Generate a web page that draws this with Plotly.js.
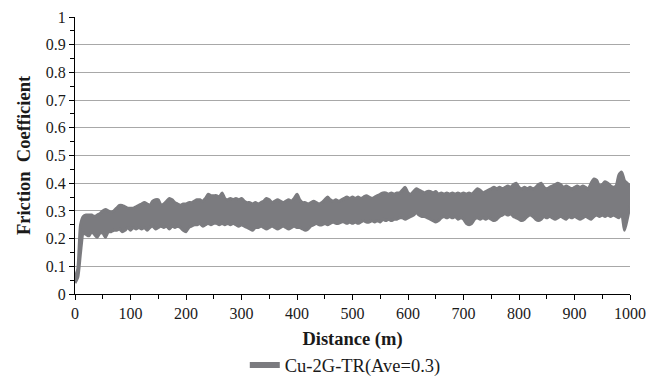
<!DOCTYPE html>
<html>
<head>
<meta charset="utf-8">
<script src="https://cdn.plot.ly/plotly-3.0.1.min.js"></script>
<style>html,body{margin:0;padding:0;background:#fff;}#chart{width:662px;height:380px;}</style>
</head>
<body>
<div id="chart"></div>
<script>
// Distance (m) sampled every 5 m
const distance = [0,5,10,15,20,25,30,35,40,45,50,55,60,65,70,75,80,85,90,95,
100,105,110,115,120,125,130,135,140,145,150,155,160,165,170,175,180,185,190,195,
200,205,210,215,220,225,230,235,240,245,250,255,260,265,270,275,280,285,290,295,
300,305,310,315,320,325,330,335,340,345,350,355,360,365,370,375,380,385,390,395,
400,405,410,415,420,425,430,435,440,445,450,455,460,465,470,475,480,485,490,495,
500,505,510,515,520,525,530,535,540,545,550,555,560,565,570,575,580,585,590,595,
600,605,610,615,620,625,630,635,640,645,650,655,660,665,670,675,680,685,690,695,
700,705,710,715,720,725,730,735,740,745,750,755,760,765,770,775,780,785,790,795,
800,805,810,815,820,825,830,835,840,845,850,855,860,865,870,875,880,885,890,895,
900,905,910,915,920,925,930,935,940,945,950,955,960,965,970,975,980,985,990,995,1000];

// Upper envelope of the friction coefficient trace
const frictionUpper = [0.06,0.09,0.25,0.28,0.285,0.285,0.285,0.28,0.285,0.29,
0.30,0.305,0.30,0.295,0.30,0.31,0.32,0.32,0.315,0.31,
0.31,0.31,0.315,0.32,0.325,0.33,0.325,0.32,0.335,0.34,
0.34,0.32,0.325,0.335,0.345,0.34,0.33,0.325,0.32,0.325,
0.325,0.33,0.33,0.335,0.34,0.34,0.335,0.345,0.36,0.355,
0.355,0.355,0.35,0.365,0.345,0.34,0.345,0.34,0.345,0.34,
0.345,0.335,0.33,0.33,0.325,0.33,0.325,0.33,0.335,0.345,
0.34,0.33,0.335,0.34,0.335,0.33,0.335,0.34,0.335,0.345,
0.36,0.34,0.33,0.33,0.325,0.33,0.335,0.33,0.325,0.33,
0.34,0.35,0.34,0.335,0.34,0.335,0.34,0.345,0.35,0.345,
0.35,0.345,0.35,0.345,0.35,0.355,0.35,0.345,0.35,0.355,
0.36,0.365,0.365,0.36,0.365,0.36,0.365,0.365,0.375,0.385,
0.365,0.36,0.37,0.38,0.375,0.37,0.365,0.37,0.37,0.365,
0.37,0.36,0.365,0.36,0.365,0.36,0.365,0.36,0.365,0.36,
0.365,0.36,0.365,0.36,0.37,0.38,0.375,0.365,0.37,0.375,
0.38,0.385,0.38,0.385,0.38,0.385,0.39,0.385,0.395,0.40,
0.385,0.38,0.385,0.38,0.385,0.38,0.385,0.395,0.40,0.385,
0.38,0.385,0.39,0.395,0.40,0.395,0.385,0.39,0.385,0.38,
0.385,0.39,0.385,0.39,0.385,0.38,0.40,0.415,0.41,0.39,
0.395,0.405,0.40,0.39,0.385,0.39,0.43,0.44,0.41,0.40,0.39];

// Lower envelope of the friction coefficient trace
const frictionLower = [0.04,0.06,0.15,0.22,0.215,0.21,0.225,0.215,0.205,0.22,
0.22,0.205,0.225,0.225,0.23,0.23,0.235,0.225,0.23,0.24,
0.23,0.24,0.235,0.24,0.235,0.24,0.23,0.24,0.245,0.235,
0.24,0.245,0.24,0.245,0.235,0.245,0.24,0.245,0.24,0.23,
0.225,0.24,0.245,0.25,0.25,0.255,0.245,0.25,0.255,0.25,
0.255,0.255,0.25,0.255,0.25,0.255,0.25,0.255,0.25,0.245,
0.25,0.245,0.24,0.235,0.23,0.24,0.24,0.245,0.24,0.235,
0.24,0.245,0.24,0.235,0.24,0.245,0.24,0.235,0.24,0.245,
0.24,0.24,0.235,0.23,0.235,0.245,0.25,0.255,0.25,0.25,
0.255,0.25,0.255,0.26,0.255,0.255,0.26,0.26,0.255,0.26,
0.255,0.26,0.255,0.26,0.265,0.26,0.26,0.265,0.26,0.265,
0.26,0.27,0.265,0.27,0.265,0.27,0.27,0.275,0.275,0.27,
0.275,0.28,0.285,0.295,0.285,0.28,0.28,0.275,0.27,0.265,
0.26,0.265,0.275,0.28,0.275,0.28,0.275,0.28,0.27,0.275,
0.27,0.255,0.25,0.255,0.27,0.275,0.27,0.275,0.27,0.275,
0.27,0.265,0.27,0.28,0.285,0.29,0.285,0.29,0.28,0.275,
0.27,0.265,0.27,0.28,0.285,0.28,0.27,0.265,0.27,0.28,
0.275,0.28,0.275,0.27,0.275,0.28,0.275,0.27,0.28,0.275,
0.28,0.275,0.27,0.275,0.28,0.275,0.27,0.28,0.285,0.28,
0.285,0.28,0.285,0.28,0.285,0.28,0.275,0.29,0.23,0.27,0.32];

const seriesName = 'Cu-2G-TR(Ave=0.3)';
const xTitle = 'Distance (m)';
const yTitle = 'Friction&nbsp;&nbsp;Coefficient';

const gray = '#7b7b7f';
const serif = 'Liberation Serif';

const traces = [
  {x: distance, y: frictionLower, mode: 'lines', showlegend: false, hoverinfo: 'skip',
   line: {color: gray, width: 3, shape: 'spline', smoothing: 0.6}},
  {x: distance, y: frictionUpper, mode: 'lines', name: seriesName, fill: 'tonexty', fillcolor: gray,
   line: {color: gray, width: 3, shape: 'spline', smoothing: 0.6}, showlegend: false},
  {x: [null], y: [null], mode: 'lines', name: seriesName, line: {color: gray, width: 6}}
];

const layout = {
  width: 662, height: 380,
  margin: {l: 75, r: 32, t: 17, b: 86, autoexpand: false},
  paper_bgcolor: '#fff', plot_bgcolor: '#fff',
  font: {family: serif, size: 16, color: '#1a1a1a'},
  showlegend: true,
  legend: {orientation: 'h', x: 0.487, xanchor: 'center', y: -0.258, yanchor: 'middle',
           font: {family: serif, size: 18.5, color: '#1a1a1a'}, itemwidth: 30},
  xaxis: {
    range: [0, 1000], dtick: 100, tick0: 0,
    showgrid: false, zeroline: false,
    showline: true, linecolor: '#000', linewidth: 1,
    ticks: 'outside', ticklen: 5, tickcolor: '#000',
    minor: {dtick: 50, ticks: 'outside', ticklen: 4, tickcolor: '#000', showgrid: false},
    tickfont: {family: serif, size: 16, color: '#1a1a1a'},
    title: {text: '<b>' + xTitle + '</b>', font: {family: serif, size: 18.5, color: '#1a1a1a'}, standoff: 10},
    automargin: false,
    fixedrange: true
  },
  yaxis: {
    range: [0, 1], dtick: 0.1, tick0: 0,
    showgrid: true, gridcolor: '#a8a8a8', gridwidth: 1, zeroline: false,
    showline: true, linecolor: '#000', linewidth: 1,
    ticks: 'outside', ticklen: 5, tickcolor: '#000',
    minor: {dtick: 0.05, ticks: 'outside', ticklen: 4, tickcolor: '#000', showgrid: false},
    tickfont: {family: serif, size: 16, color: '#1a1a1a'},
    title: {text: '<b>' + yTitle + '</b>', font: {family: serif, size: 18.5, color: '#1a1a1a'}, standoff: 10},
    automargin: false,
    fixedrange: true
  }
};

Plotly.newPlot('chart', traces, layout, {displayModeBar: false, staticPlot: true});
</script>
</body>
</html>
